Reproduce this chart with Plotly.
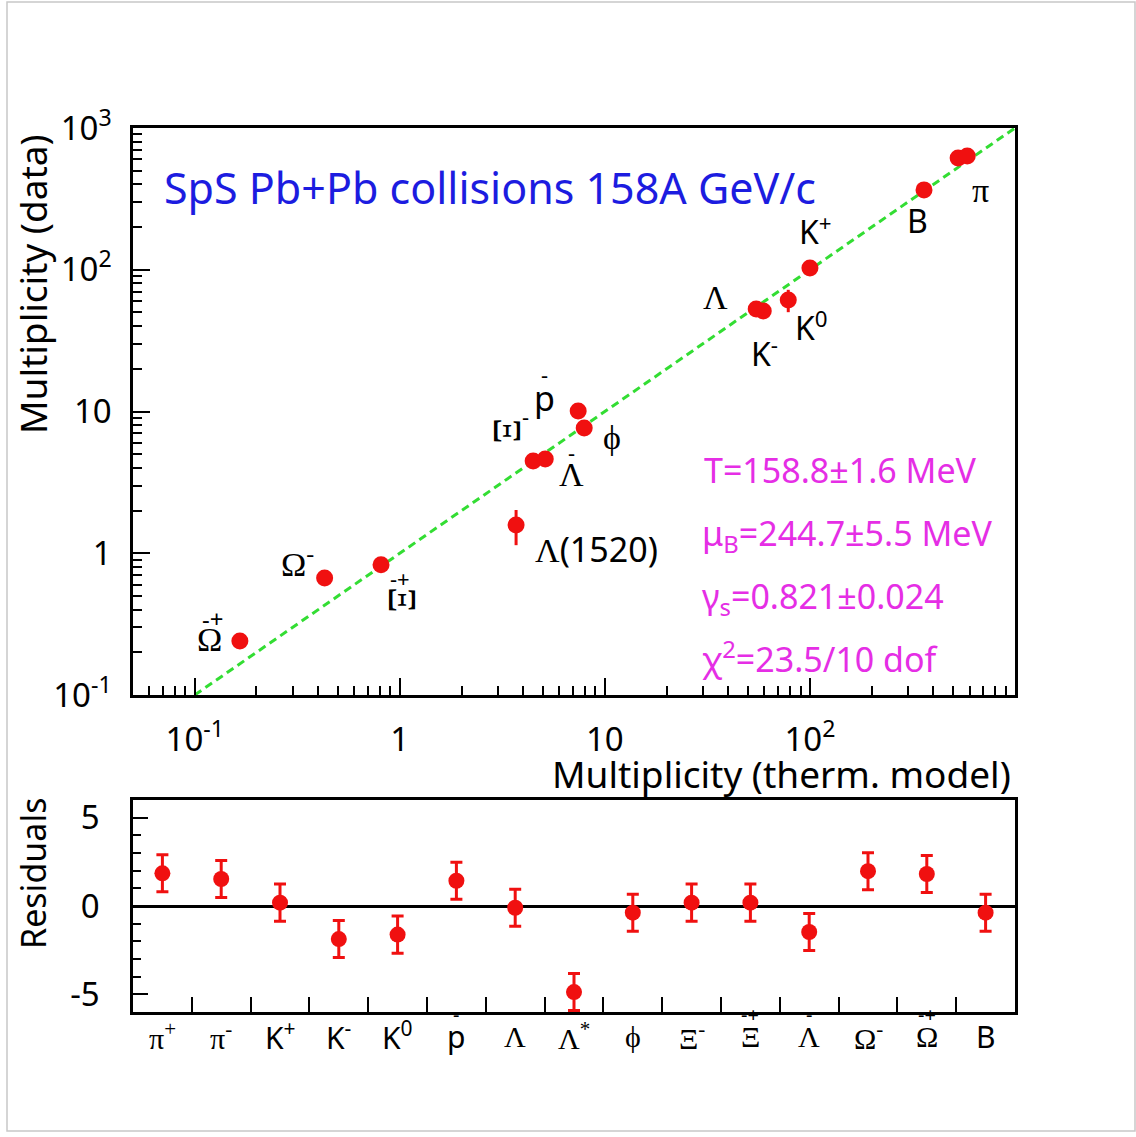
import math
import plotly.graph_objects as go

W, H = 1136, 1137

# ---------------- data: top panel (thermal model vs data) ----------------
top_names = ["pi+", "pi-", "K+", "K-", "K0", "pbar", "Lambda", "Lambda(1520)",
             "phi", "Xi-", "Xibar+", "Lambdabar", "Omega-", "Omegabar+", "B"]
model_mult = [528, 585, 100, 59.2, 78.4, 7.41, 54.7, 3.69, 7.93, 4.47, 0.81, 5.12, 0.43, 0.166, 360]
data_mult = [614, 634, 103, 51.2, 61.2, 10.1, 52.9, 1.58, 7.66, 4.48, 0.83, 4.62, 0.67, 0.24, 366]
data_err = [0, 0, 0, 0, 11, 0, 0, 0.44, 0, 0, 0, 0, 0, 0, 0]
diagonal = [0.1, 1000]

# ---------------- data: residual panel ----------------
# (base symbol, superscript, overbar marks)
res_symbols = ["π", "π", "K", "K", "K", "p", "Λ", "Λ", "ϕ", "Ξ", "Ξ", "Λ", "Ω", "Ω", "B"]
res_sups = ["+", "-", "+", "-", "0", "", "", "*", "", "-", "", "", "-", "", ""]
res_bars = ["", "", "", "", "", "-", "", "", "", "", "-+", "-", "", "-+", ""]
res_values = [1.85, 1.53, 0.19, -1.87, -1.62, 1.43, -0.10, -4.87, -0.38, 0.19, 0.19, -1.47, 1.97, 1.81, -0.38]
res_err = [1.05, 1.05, 1.05, 1.05, 1.05, 1.05, 1.05, 1.05, 1.05, 1.05, 1.05, 1.05, 1.05, 1.05, 1.05]
res_pos = list(range(len(res_symbols)))

x_tickvals = [0.1, 1, 10, 100]
x_ticktext = ["10<sup>-1</sup>", "1", "10", "10<sup>2</sup>"]
y_tickvals = [0.1, 1, 10, 100, 1000]
y_ticktext = ["10<sup>-1</sup>", "1", "10", "10<sup>2</sup>", "10<sup>3</sup>"]

SANS = "Noto Sans"
SERIF = "Liberation Serif"
RED = "#f01010"
GREEK = set("πΛΩΞϕφ")


def P(x, y):
    return x / W, 1 - y / H


x0, y_top0 = P(133, 128)
x1, y_top1 = P(1015, 695)
_, y_bot0 = P(0, 800)
_, y_bot1 = P(0, 1012)

fig = go.Figure()

fig.add_trace(go.Scatter(x=diagonal, y=diagonal, mode="lines",
                         line=dict(color="#33dd33", width=3, dash="8px,5px"),
                         xaxis="x", yaxis="y", showlegend=False, hoverinfo="skip"))
fig.add_trace(go.Scatter(x=model_mult, y=data_mult, mode="markers",
                         marker=dict(color=RED, size=17),
                         error_y=dict(type="data", array=data_err, color=RED, thickness=3, width=0),
                         xaxis="x", yaxis="y", showlegend=False, text=top_names))
fig.add_trace(go.Scatter(x=res_pos, y=res_values, mode="markers",
                         marker=dict(color=RED, size=16),
                         error_y=dict(type="data", array=res_err, color=RED, thickness=3, width=6),
                         xaxis="x2", yaxis="y2", showlegend=False))

minor_log = [m * 10 ** e for e in range(-2, 3) for m in range(2, 10)]

axis_common = dict(showline=True, mirror=True, linecolor="black", linewidth=2.5,
                   showgrid=False, zeroline=False, ticks="inside", tickcolor="black",
                   tickwidth=2, automargin=False)

fig.update_layout(
    width=W, height=H,
    margin=dict(l=0, r=0, t=0, b=0, pad=0, autoexpand=False),
    paper_bgcolor="white", plot_bgcolor="white",
    font=dict(family=SANS, color="black"),
    xaxis=dict(axis_common, type="log", range=[math.log10(0.05), 3], domain=[x0, x1],
               anchor="y", tickvals=x_tickvals, ticktext=x_ticktext, ticklen=17,
               tickfont=dict(size=33), ticklabelstandoff=14,
               minor=dict(ticks="inside", ticklen=9, tickwidth=1.5, tickcolor="black",
                          tickvals=minor_log)),
    yaxis=dict(axis_common, type="log", range=[-1, 3], domain=[y_top1, y_top0],
               anchor="x", tickvals=y_tickvals, ticktext=y_ticktext, ticklen=17,
               tickfont=dict(size=33), ticklabelstandoff=12,
               minor=dict(ticks="inside", ticklen=9, tickwidth=1.5, tickcolor="black",
                          tickvals=minor_log)),
    xaxis2=dict(axis_common, range=[-0.5, 14.5], domain=[x0, x1], anchor="y2",
                tickvals=res_pos, showticklabels=False, ticks="",
                minor=dict(ticks="inside", ticklen=15, tickwidth=2, tickcolor="black",
                           tickvals=[p + 0.5 for p in res_pos[:-1]])),
    yaxis2=dict(axis_common, range=[-6, 6], domain=[y_bot1, y_bot0], anchor="x2",
                tickvals=[-5, 0, 5], ticktext=["-5", "0", "5"], ticklen=15,
                tickfont=dict(size=33), ticklabelstandoff=24,
                zeroline=True, zerolinecolor="black", zerolinewidth=2.5,
                minor=dict(ticks="inside", ticklen=8, tickwidth=1.5, tickcolor="black", dtick=1)),
)

ann = []


def add(text, x, y, size=32, color="black", family=SANS, angle=0, xanchor="center",
        xref="paper"):
    px, py = P(x, y)
    if xref != "paper":
        px = x
    ann.append(dict(text=text, x=px, y=py, xref=xref, yref="paper", showarrow=False,
                    xanchor=xanchor, yanchor="middle", textangle=angle,
                    font=dict(size=size, color=color, family=family)))


# axis titles
add("Multiplicity (data)", 33, 284, size=37, angle=-90)
add("Residuals", 33, 874, size=34, angle=-90)
add("Multiplicity (therm. model)", 1013, 773, size=37, xanchor="right")

# title and fit results
add("SpS Pb+Pb collisions 158A GeV/c", 162, 187, size=43, color="#1c1ce0", xanchor="left")
mag = "#e52ee5"
add("T=158.8±1.6 MeV", 702, 470, size=34, color=mag, xanchor="left")
add("μ<sub>B</sub>=244.7±5.5 MeV", 700, 535, size=34, color=mag, xanchor="left")
add("γ<sub>s</sub>=0.821±0.024", 700, 598, size=34, color=mag, xanchor="left")
add("χ<sup>2</sup>=23.5/10 dof", 700, 657, size=34, color=mag, xanchor="left")

# particle labels in the top panel
add("Ω", 209, 639, size=34, family=SERIF)
add("-+", 212, 618, size=24)
add("Ω<sup>-</sup>", 297, 562, size=34, family=SERIF)
add("Ξ", 403, 600, size=40, family=SERIF, angle=90)
add("-+", 400, 578, size=22)
add("Ξ", 508, 431, size=40, family=SERIF, angle=90)
add("-", 525, 416, size=22)
add("p", 544, 398, size=34)
add("-", 544, 374, size=22)
add("ϕ", 612, 437, size=34, family=SERIF)
add("Λ", 571, 474, size=34, family=SERIF)
add("-", 571, 452, size=22)
add('<span style="font-family:%s">Λ</span>(1520)' % SERIF, 596, 549, size=34)
add("Λ", 715, 297, size=34, family=SERIF)
add("K<sup>-</sup>", 764, 352, size=32)
add("K<sup>0</sup>", 811, 326, size=32)
add("K<sup>+</sup>", 815, 230, size=32)
add("B", 917, 221, size=32)
add("π", 980, 190, size=34, family=SERIF)

# category labels under the residual panel
for pos, sym, sup, bar in zip(res_pos, res_symbols, res_sups, res_bars):
    fam = SERIF if sym in GREEK else SANS
    txt = sym + ("<sup>%s</sup>" % sup if sup else "")
    add(txt, pos, 1036, size=30, family=fam, xref="x2")
    if bar:
        add(bar, pos, 1014, size=20, xref="x2")

fig.update_layout(annotations=ann)

# thin grey frame of the picture
bx0, by0 = P(7, 2)
bx1, by1 = P(1135, 1131)
fig.add_shape(type="rect", xref="paper", yref="paper", x0=bx0, y0=by1, x1=bx1, y1=by0,
              line=dict(color="#c8c8c8", width=1.5), layer="below")

fig.write_html("out.html")
